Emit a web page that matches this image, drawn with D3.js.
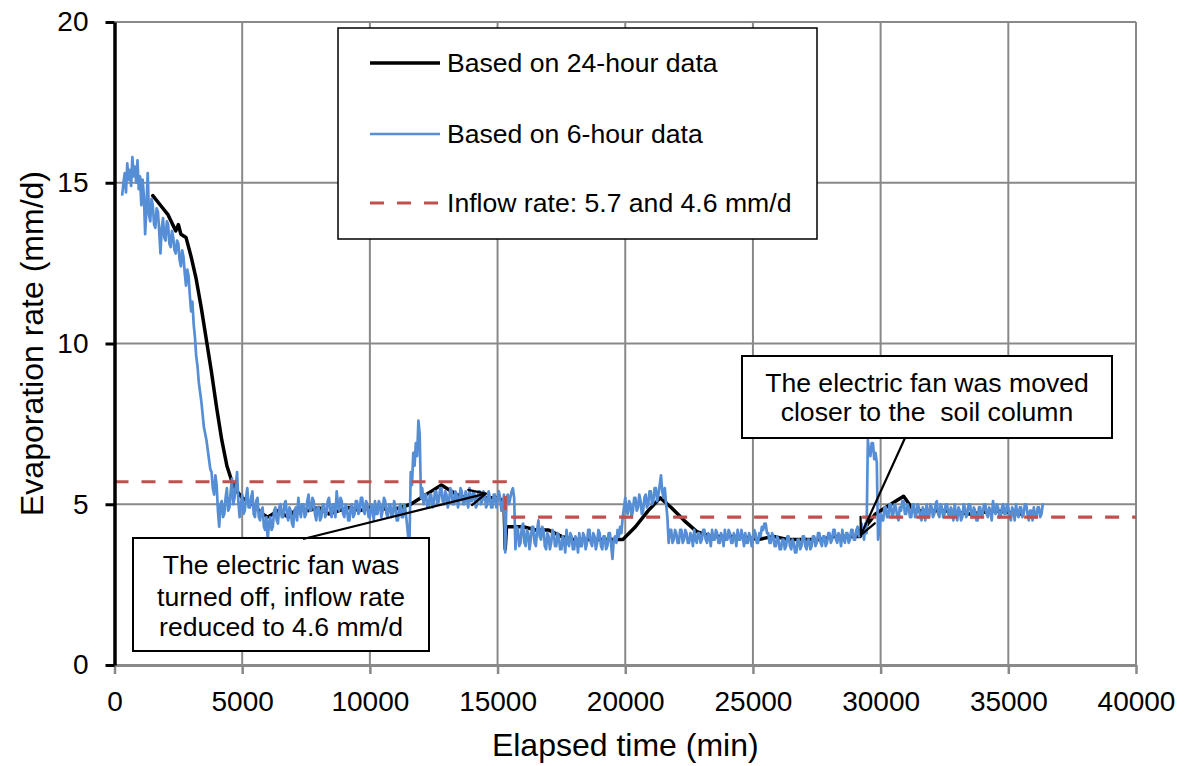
<!DOCTYPE html>
<html>
<head>
<meta charset="utf-8">
<script src="https://cdn.jsdelivr.net/npm/d3@7"></script>
<style>
  html, body { margin: 0; padding: 0; background: #fff; }
  svg { display: block; font-family: "Liberation Sans", Arial, sans-serif; }
</style>
</head>
<body>
<svg id="chart" width="1199" height="766"></svg>
<script>
// Axis ticks
const xTicks = [0, 5000, 10000, 15000, 20000, 25000, 30000, 35000, 40000];
const yTicks = [0, 5, 10, 15, 20];

// Evaporation rate from 6-hour windows, sampled every 50 min starting at 300 min
const sixHourStart = 300;
const sixHourStep = 50;
const sixHourRate = [
  14.6,15.0,15.3,14.7,15.6,15.1,15.4,14.9,15.8,15.2,15.5,15.0,15.7,14.8,15.2,14.3,15.1,14.6,13.4,14.2,
  15.3,14.0,13.8,14.5,14.3,13.7,13.6,14.2,14.1,13.5,12.8,13.6,13.9,13.3,13.2,13.8,13.7,13.1,13.0,13.5,
  13.3,12.9,12.8,13.2,13.1,12.6,12.4,12.9,12.7,12.2,11.8,12.3,12.1,11.5,11.0,11.3,10.6,10.2,9.6,9.3,
  8.8,8.5,8.2,7.8,7.4,7.2,7.0,6.7,6.4,6.1,6.0,5.5,5.3,5.9,5.6,4.8,4.3,5.0,5.1,4.6,
  4.7,5.2,5.5,4.8,4.9,5.4,5.8,5.0,5.2,5.6,6.0,5.1,4.6,5.0,5.3,4.7,4.8,5.2,5.5,4.9,
  4.9,5.2,5.4,4.7,4.6,5.1,5.2,4.6,4.5,4.8,4.9,4.3,4.2,4.6,3.9,4.4,4.6,4.2,4.3,4.8,
  4.9,4.5,4.4,4.9,5.0,4.6,4.6,5.0,5.1,4.7,4.5,4.9,4.8,4.4,4.3,4.8,4.9,4.5,5.2,4.8,
  4.6,5.0,5.0,4.6,4.7,5.1,5.3,4.8,4.8,5.2,5.1,4.7,4.5,4.9,4.9,4.5,4.6,5.0,5.0,4.6,
  4.7,5.1,5.2,4.8,4.6,5.0,5.0,4.6,5.4,5.0,4.8,5.2,5.1,4.7,4.6,5.0,4.9,4.5,4.5,4.9,
  5.0,4.6,4.7,5.1,5.1,4.7,4.8,5.2,5.2,4.8,4.7,5.1,5.0,4.6,4.6,5.0,4.9,4.5,5.1,4.7,
  4.7,5.1,5.0,4.6,4.8,5.2,5.1,4.7,4.6,5.0,5.0,4.6,4.7,5.1,4.9,4.5,4.5,4.9,5.0,4.6,
  4.6,5.0,4.8,4.4,4.0,3.8,6.0,5.6,6.6,6.2,6.9,6.5,7.6,7.2,5.2,5.5,5.0,5.3,5.3,4.9,
  4.9,5.3,5.3,4.9,5.0,5.4,5.4,5.0,5.1,5.5,5.5,5.1,5.0,5.4,5.3,4.9,5.1,5.5,5.4,5.0,
  5.0,5.4,5.3,4.9,5.1,5.5,5.4,5.0,5.0,5.4,5.2,4.9,5.5,5.1,5.1,5.4,5.3,4.9,5.0,5.4,
  5.4,5.0,5.1,5.4,5.3,4.9,5.0,5.4,5.2,4.9,4.9,5.3,5.3,4.9,5.1,5.4,5.2,4.8,4.9,5.3,
  3.5,5.2,5.3,5.0,5.2,5.4,5.5,5.2,3.6,4.3,4.2,3.7,3.8,4.3,4.4,3.8,3.7,4.2,4.1,3.6,
  3.9,4.3,4.3,3.8,3.7,4.2,4.5,4.0,3.9,4.3,4.2,3.7,3.6,4.1,4.0,3.6,3.8,4.2,4.1,3.7,
  3.7,4.1,4.0,3.6,3.6,4.0,3.9,3.5,4.2,3.8,3.7,4.1,4.0,3.6,3.6,4.0,3.9,3.5,4.1,3.7,
  3.7,4.1,4.0,3.6,3.8,4.2,4.2,3.8,3.7,4.1,4.0,3.6,3.8,4.2,4.1,3.7,3.6,4.0,4.0,3.6,
  3.7,4.1,4.1,3.7,3.3,3.9,4.0,3.8,4.2,4.0,4.3,4.1,4.6,4.9,5.2,4.8,4.7,5.1,5.0,4.6,
  4.8,5.2,5.2,4.8,4.9,5.3,5.1,4.7,4.8,5.2,5.3,4.9,5.0,5.4,5.4,5.0,5.1,5.5,5.5,5.1,
  5.3,5.6,5.9,5.4,5.2,5.5,5.0,4.6,3.8,4.2,4.2,3.8,3.9,4.2,4.1,3.8,3.8,4.2,4.2,3.8,
  3.9,4.2,4.1,3.8,3.8,4.1,4.0,3.7,4.2,3.9,3.8,4.1,4.1,3.8,3.9,4.2,4.2,3.9,3.8,4.1,
  4.0,3.7,4.2,3.9,3.9,4.2,4.1,3.8,3.8,4.1,4.0,3.7,4.2,3.9,3.9,4.2,4.1,3.8,3.8,4.1,
  4.0,3.7,4.2,3.9,3.9,4.2,4.0,3.7,4.1,3.8,3.8,4.1,4.0,3.7,3.9,4.2,4.1,3.8,3.8,4.1,
  4.0,4.3,4.2,4.4,4.4,4.1,4.1,3.8,3.8,4.1,4.0,3.7,3.7,4.0,3.9,3.6,3.6,3.9,3.9,3.6,
  3.7,4.0,4.0,3.7,3.6,3.9,3.8,3.5,3.5,3.9,3.9,3.6,3.7,4.0,4.0,3.7,3.6,3.9,3.9,3.6,
  3.7,4.0,4.0,3.7,3.8,4.1,4.1,3.8,3.7,4.0,4.0,3.7,3.8,4.1,4.1,3.8,3.9,4.2,4.2,3.9,
  3.8,4.1,4.0,3.7,4.2,3.9,3.8,4.1,4.1,3.8,3.9,4.2,4.2,3.9,3.9,4.2,4.3,4.0,4.1,4.4,
  4.2,3.9,4.4,4.1,7.0,6.6,6.5,6.9,6.9,6.4,6.6,6.3,3.9,4.2,4.7,4.5,4.5,4.9,4.9,4.6,
  4.6,5.0,5.0,4.6,4.7,5.0,4.9,4.6,4.5,4.9,4.8,5.1,5.1,4.7,4.7,5.0,4.9,4.6,4.6,5.0,
  5.0,4.6,4.7,5.0,4.9,4.6,4.5,4.9,4.8,4.5,5.0,4.7,4.6,5.0,4.9,4.6,4.7,5.0,5.1,4.7,
  4.6,5.0,4.9,4.6,4.7,5.0,5.0,4.7,4.6,4.9,4.8,4.5,5.0,4.7,4.5,4.9,4.8,4.5,4.6,5.0,
  4.9,4.6,4.7,5.0,5.0,4.7,4.6,4.9,4.8,4.5,4.5,4.9,4.9,4.6,4.7,5.0,5.0,4.7,4.6,4.9,
  4.8,4.5,5.1,4.8,4.7,5.0,4.9,4.6,4.6,4.9,5.0,4.7,4.7,5.0,4.9,4.6,4.5,4.9,4.8,4.5,
  5.0,4.7,4.6,4.9,4.9,4.6,4.7,5.0,5.0,4.7,4.5,4.8,4.8,4.5,4.9,4.6,4.6,4.9,4.9,4.6,
  4.7,5.0,5.0
];

// Evaporation rate from 24-hour windows
const dayTimes = [
  1500,1800,2100,2400,2500,2600,2800,3000,3200,3400,
  3600,3800,4000,4200,4400,4600,4800,5000,5400,5800,
  6000,6400,6800,7200,7600,8000,8400,8800,9200,9600,
  10000,10400,10800,11200,11600,12000,12400,12800,13000,13400,
  13800,14200,14600,15000,15250,15300,15350,15500,16000,16500,
  17000,17500,18000,18500,19000,19500,19900,20400,20900,21370,
  21800,22300,22800,23400,24000,24600,25200,25800,26400,27000,
  27600,28200,28800,29200,29500,29800,30200,30600,30900,31300,
  31800,32500,33500,34500,35500
];
const dayRate = [
  14.6,14.3,14.0,13.5,13.7,13.4,13.3,12.7,12.0,11.1,
  10.1,9.1,8.0,7.0,6.2,5.7,5.4,5.2,5.0,4.7,
  4.6,4.8,4.6,4.9,4.8,4.9,4.7,4.8,4.9,4.8,
  4.9,4.9,4.8,4.9,5.0,5.2,5.4,5.6,5.5,5.3,
  5.2,5.2,5.2,5.2,5.1,3.6,4.3,4.3,4.3,4.2,
  4.2,4.0,3.9,3.9,3.9,3.9,3.9,4.3,4.8,5.2,
  4.9,4.5,4.15,4.0,4.0,4.0,3.9,4.0,3.9,3.9,
  3.9,4.0,4.0,4.0,4.4,4.7,4.9,5.1,5.25,4.8,
  4.8,4.8,4.7,4.8,4.7
];

// Inflow rate: 5.7 mm/d, reduced to 4.6 mm/d at 15300 min
const inflowTimes = [0, 15300, 15300, 40000];
const inflowRate = [5.7, 5.7, 4.6, 4.6];

const svg = d3.select("#chart");
const plotLeft = 114.5, plotRight = 1136, plotTop = 22, plotBottom = 665;
const x = d3.scaleLinear().domain([0, 40000]).range([plotLeft, plotRight]);
const y = d3.scaleLinear().domain([0, 20]).range([plotBottom, plotTop]);

const gridColor = "#898989";

// Grid
const grid = svg.append("g");
grid.selectAll("line.v").data(xTicks.filter(d => d > 0)).join("line")
  .attr("x1", d => x(d)).attr("x2", d => x(d))
  .attr("y1", y(0)).attr("y2", y(20))
  .attr("stroke", gridColor).attr("stroke-width", 2);
grid.selectAll("line.h").data(yTicks.filter(d => d > 0)).join("line")
  .attr("x1", x(0)).attr("x2", x(40000))
  .attr("y1", d => y(d)).attr("y2", d => y(d))
  .attr("stroke", gridColor).attr("stroke-width", 2);

const line = d3.line().x(d => x(d.t)).y(d => y(d.v));

const daySeries = dayTimes.map((t, i) => ({ t, v: dayRate[i] }));
const sixSeries = sixHourRate.map((v, i) => ({ t: sixHourStart + i * sixHourStep, v }));
const inflowSeries = inflowTimes.map((t, i) => ({ t, v: inflowRate[i] }));

svg.append("path").datum(daySeries)
  .attr("d", line).attr("fill", "none")
  .attr("stroke", "#000").attr("stroke-width", 3.5)
  .attr("stroke-linejoin", "round").attr("stroke-linecap", "round");

svg.append("path").datum(sixSeries)
  .attr("d", line).attr("fill", "none")
  .attr("stroke", "#558ED5").attr("stroke-width", 2.7)
  .attr("stroke-linejoin", "round");

svg.append("path").datum(inflowSeries)
  .attr("d", line).attr("fill", "none")
  .attr("stroke", "#C0504D").attr("stroke-width", 3.2)
  .attr("stroke-dasharray", "14,13");

// Axes
const xAxis = svg.append("g").attr("transform", `translate(0,${plotBottom})`)
  .call(d3.axisBottom(x).tickValues(xTicks).tickFormat(d3.format("d"))
    .tickSizeInner(9).tickSizeOuter(0).tickPadding(17));
xAxis.select(".domain").attr("stroke", gridColor).attr("stroke-width", 3);
xAxis.selectAll(".tick line").attr("stroke", gridColor).attr("stroke-width", 2.5);
xAxis.selectAll(".tick text").attr("font-size", 28).attr("fill", "#000")
  .attr("font-family", "Liberation Sans, Arial, sans-serif");

const yAxis = svg.append("g").attr("transform", `translate(${plotLeft},0)`)
  .call(d3.axisLeft(y).tickValues(yTicks)
    .tickSizeInner(9).tickSizeOuter(0).tickPadding(17));
yAxis.select(".domain").attr("stroke", "#000").attr("stroke-width", 3.5);
yAxis.selectAll(".tick line").attr("stroke", "#000").attr("stroke-width", 3);
yAxis.selectAll(".tick text").attr("font-size", 28).attr("fill", "#000")
  .attr("font-family", "Liberation Sans, Arial, sans-serif");

// Axis titles
svg.append("text").attr("x", (plotLeft + plotRight) / 2).attr("y", 756)
  .attr("text-anchor", "middle").attr("font-size", 32).text("Elapsed time (min)");
svg.append("text").attr("transform", `translate(43,${(plotTop + plotBottom) / 2}) rotate(-90)`)
  .attr("text-anchor", "middle").attr("font-size", 32).text("Evaporation rate (mm/d)");

// Legend
const legend = svg.append("g");
legend.append("rect").attr("x", 338).attr("y", 28).attr("width", 479).attr("height", 211)
  .attr("fill", "#fff").attr("stroke", "#000").attr("stroke-width", 1.5);
const legendItems = [
  { label: "Based on 24-hour data", color: "#000", width: 3.5, dash: null, cy: 63 },
  { label: "Based on 6-hour data", color: "#558ED5", width: 2.4, dash: null, cy: 134 },
  { label: "Inflow rate: 5.7 and 4.6 mm/d", color: "#C0504D", width: 3.2, dash: "14,13", cy: 203 }
];
legendItems.forEach(it => {
  legend.append("line").attr("x1", 370).attr("x2", 440).attr("y1", it.cy).attr("y2", it.cy)
    .attr("stroke", it.color).attr("stroke-width", it.width)
    .attr("stroke-dasharray", it.dash);
  legend.append("text").attr("x", 447).attr("y", it.cy).attr("dy", "0.35em")
    .attr("font-size", 26.6).text(it.label);
});

// Annotations
const notes = [
  { box: [133, 538, 296, 113], lines: ["The electric fan was", "turned off, inflow rate", "reduced to 4.6 mm/d"],
    lineY: [565, 597, 627], from: [303, 539], tip: [14540, 5.33] },
  { box: [742, 356, 370, 82], lines: ["The electric fan was moved", "closer to the  soil column"],
    lineY: [383, 412], from: [905, 438], tip: [29230, 4.05] }
];
notes.forEach(n => {
  const g = svg.append("g");
  const [bx, by, bw, bh] = n.box;
  g.append("rect").attr("x", bx).attr("y", by).attr("width", bw).attr("height", bh)
    .attr("fill", "#fff").attr("stroke", "#000").attr("stroke-width", 2);
  n.lines.forEach((s, i) => {
    g.append("text").attr("x", bx + bw / 2).attr("y", n.lineY[i]).attr("dy", "0.35em")
      .attr("text-anchor", "middle").attr("font-size", 26.6)
      .style("white-space", "pre").text(s);
  });
  const tx = x(n.tip[0]), ty = y(n.tip[1]);
  const [fx, fy] = n.from;
  g.append("line").attr("x1", fx).attr("y1", fy).attr("x2", tx).attr("y2", ty)
    .attr("stroke", "#000").attr("stroke-width", 2.2);
  const ang = Math.atan2(ty - fy, tx - fx);
  const len = 18, spread = 0.45;
  [ang + Math.PI - spread, ang + Math.PI + spread].forEach(a => {
    g.append("line").attr("x1", tx).attr("y1", ty)
      .attr("x2", tx + len * Math.cos(a)).attr("y2", ty + len * Math.sin(a))
      .attr("stroke", "#000").attr("stroke-width", 2.2).attr("stroke-linecap", "round");
  });
});
</script>
</body>
</html>
